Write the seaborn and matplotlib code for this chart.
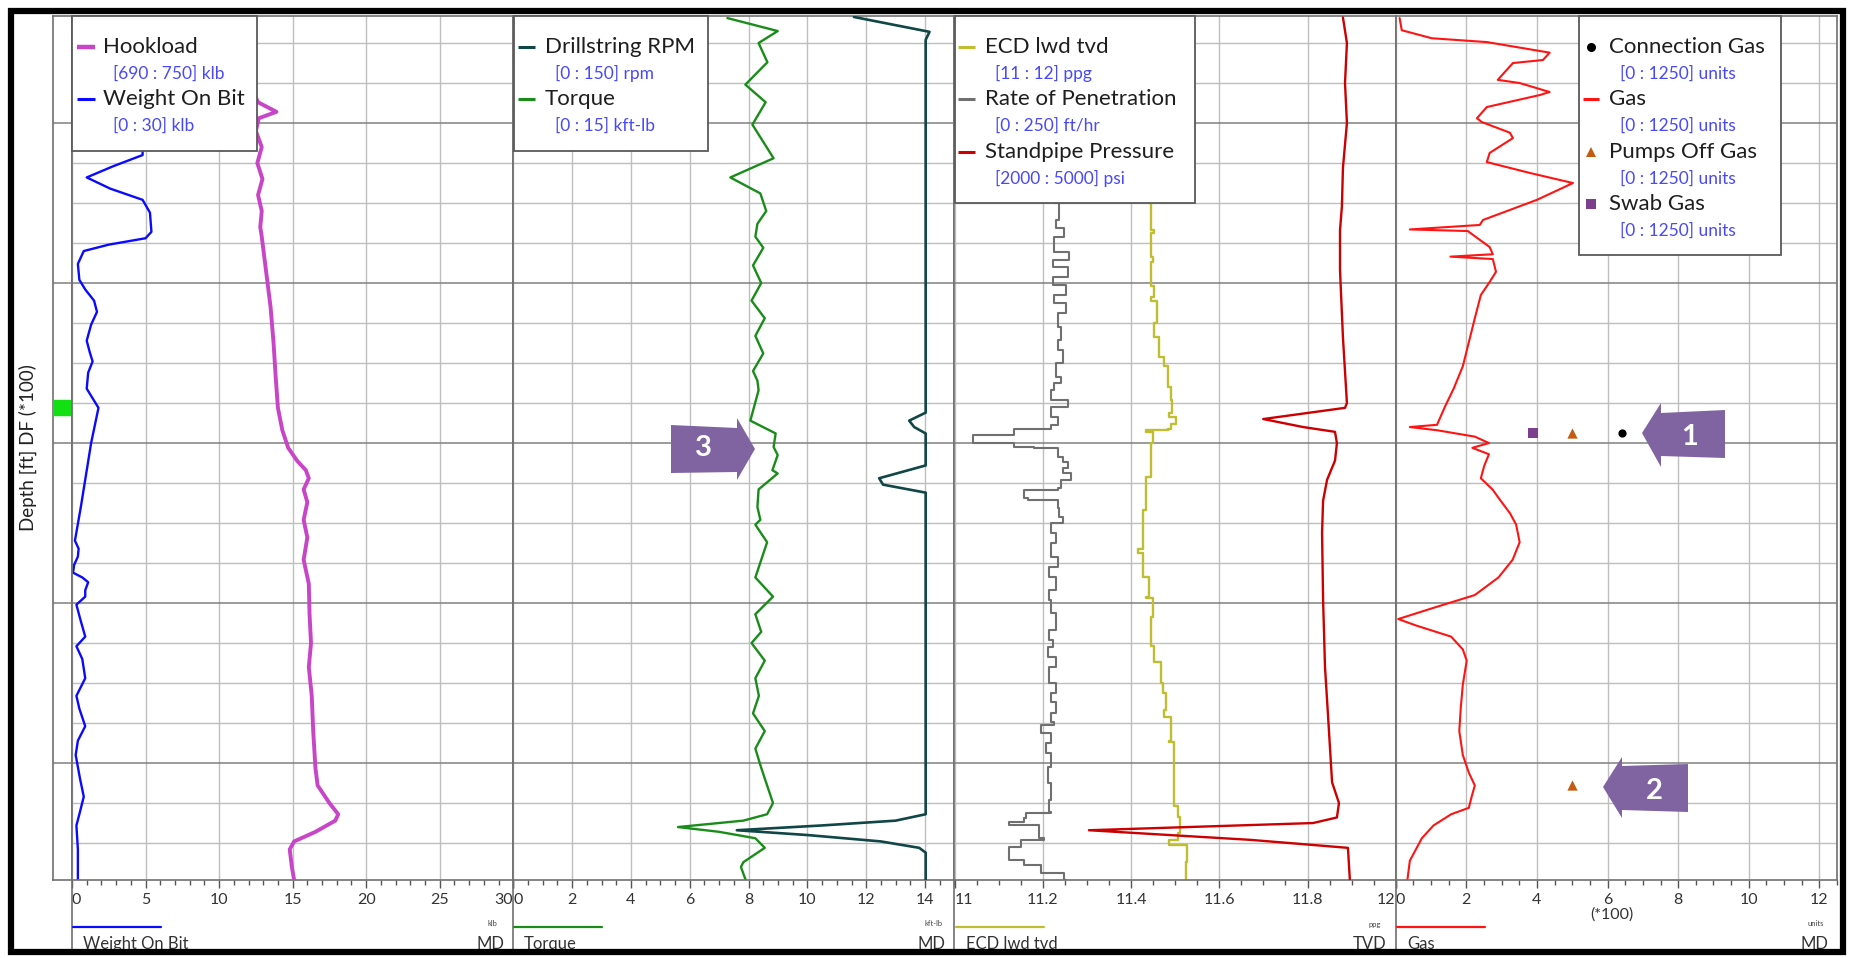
import matplotlib
matplotlib.use("Agg")
import matplotlib.pyplot as plt
import seaborn as sns
from matplotlib.patches import Rectangle, Polygon
from matplotlib.lines import Line2D
from matplotlib.ticker import MultipleLocator

sns.set_theme(style="white")
plt.rcParams['font.family'] = ['Lato', 'DejaVu Sans']

# ------------------------------------------------------------------ data
D_TOP, D_BOT = 7333.1, 7873.1

wob_depth = [7334, 7390, 7415, 7420, 7427, 7434, 7441, 7448, 7456, 7468, 7472, 7476, 7480, 7488, 7498,
             7504, 7511, 7518, 7526, 7536, 7543, 7549, 7556, 7566, 7572, 7578, 7600, 7620, 7640, 7661,
             7666, 7671, 7676, 7681, 7684, 7687, 7692, 7696, 7701, 7710, 7721, 7727, 7735, 7747, 7758,
             7766, 7777, 7786, 7795, 7810, 7821, 7832, 7839, 7854, 7873]
wob_klb = [4.2, 4.5, 4.8, 4.8, 2.8, 1.0, 2.6, 4.8, 5.3, 5.4, 5.0, 2.5, 0.8, 0.4, 0.5,
           0.9, 1.5, 1.7, 1.3, 1.0, 1.2, 1.4, 1.1, 1.0, 1.4, 1.8, 1.3, 0.95, 0.6, 0.2,
           0.45, 0.4, 0.15, 0.07, 0.7, 1.1, 0.9, 0.9, 0.3, 0.56, 0.9, 0.3, 0.7, 0.9, 0.3,
           0.5, 0.9, 0.4, 0.25, 0.55, 0.8, 0.5, 0.3, 0.4, 0.4]

hook_depth = [7334, 7382, 7387, 7393, 7397, 7405, 7415, 7425, 7435, 7445, 7455, 7465, 7471, 7493,
              7515, 7537, 7559, 7578, 7592, 7603, 7611, 7617, 7622, 7629, 7637, 7648, 7659, 7673,
              7688, 7707, 7725, 7740, 7758, 7780, 7803, 7814, 7825, 7832, 7836, 7843, 7849, 7854,
              7865, 7873]
hook_klb = [714.5, 714.8, 715.3, 717.8, 715.4, 715.0, 715.8, 715.2, 715.9, 715.3, 715.8, 715.6, 715.8,
            716.4, 717.0, 717.4, 717.7, 718.0, 718.6, 719.4, 720.6, 721.8, 722.2, 721.5, 722.0, 721.5,
            722.0, 721.5, 722.2, 722.3, 722.5, 722.2, 722.6, 722.8, 723.1, 723.4, 725.0, 726.2, 725.8,
            723.1, 720.2, 719.6, 719.9, 720.2]

torque_depth = [7334.4, 7342.5, 7350, 7362, 7376, 7387, 7401, 7422, 7434, 7444, 7455, 7463, 7471, 7478,
                7489, 7500, 7511, 7522, 7533, 7544, 7555, 7561, 7567, 7586, 7594, 7602.5, 7607.5, 7617,
                7619, 7629, 7640, 7648, 7651, 7662, 7673, 7684, 7696, 7707, 7718, 7725, 7736, 7747,
                7758, 7769, 7780, 7791, 7803, 7814, 7825, 7832, 7836, 7840, 7843, 7847, 7853, 7862,
                7865, 7873]
torque_kftlb = [7.28, 8.99, 8.34, 8.64, 7.89, 8.58, 8.13, 8.85, 7.38, 8.40, 8.6, 8.3, 8.23, 8.5,
                8.15, 8.43, 8.1, 8.55, 8.23, 8.5, 8.15, 8.30, 8.34, 8.06, 8.92, 8.85, 8.99, 8.81,
                8.99, 8.34, 8.30, 8.40, 8.23, 8.63, 8.43, 8.23, 8.83, 8.23, 8.43, 8.10, 8.55, 8.23,
                8.35, 8.15, 8.55, 8.23, 8.43, 8.63, 8.83, 8.63, 7.82, 5.6, 7.0, 8.23, 8.55, 7.82,
                7.74, 7.9]

rpm_depth = [7333.7, 7343, 7348, 7581, 7586, 7590, 7594, 7614, 7622, 7626, 7631, 7832, 7836, 7839,
             7842, 7845, 7849, 7853, 7856, 7873]
rpm_val = [115.8, 141.5, 140.2, 140.2, 134.6, 136.3, 140.2, 140.2, 124.4, 125.7, 140.2, 140.2, 130,
           105, 76, 100, 125, 138, 140.2, 140.2]

ecd_depth = [7334, 7450, 7467, 7469, 7484, 7487, 7502, 7509, 7511, 7525, 7534, 7546, 7552, 7565, 7573,
             7581, 7584, 7588, 7591, 7592, 7593, 7600, 7621, 7642, 7666, 7669, 7681, 7684, 7696, 7697,
             7709, 7727, 7737, 7750, 7756, 7767, 7771, 7786, 7787, 7809, 7827, 7834, 7844, 7848, 7851,
             7862, 7873]
ecd_ppg = [11.44, 11.445, 11.451, 11.445, 11.449, 11.445, 11.451, 11.445, 11.46, 11.451, 11.463, 11.474,
           11.483, 11.49, 11.494, 11.485, 11.501, 11.49, 11.483, 11.433, 11.449, 11.445, 11.433, 11.427,
           11.415, 11.427, 11.427, 11.44, 11.433, 11.449, 11.445, 11.451, 11.467, 11.472, 11.479, 11.474,
           11.49, 11.485, 11.497, 11.497, 11.506, 11.512, 11.506, 11.485, 11.528, 11.524, 11.524]

rop_depth = [7334, 7400, 7440, 7450, 7460.6, 7465.6, 7471.2, 7480.6, 7485.6, 7490, 7496.2, 7501.2, 7507.5,
             7512.5, 7518.7, 7527.5, 7535.6, 7541.9, 7550, 7558.7, 7562.5, 7566.9, 7573.1, 7577.5, 7583.7,
             7588.7, 7591.2, 7595, 7599.4, 7600, 7602.5, 7603.1, 7608.7, 7611.9, 7615.6, 7618.7, 7623.1,
             7628.1, 7629.4, 7634.4, 7635.6, 7640.6, 7646.2, 7650, 7656.2, 7662.5, 7671.2, 7677.5, 7683.7,
             7691.9, 7698.1, 7706.2, 7716.9, 7723.1, 7727.5, 7733.7, 7740, 7750, 7756.2, 7761.9, 7768.7,
             7774.4, 7776.2, 7781.2, 7787.5, 7793.7, 7802.5, 7812.5, 7823.1, 7830.6, 7831.2, 7834.4,
             7836.9, 7838.7, 7846.9, 7848.1, 7852.5, 7857.5, 7860.6, 7863.7, 7868.7, 7873.1]
rop_fthr = [58, 61, 57, 59.3, 57.6, 62.1, 56.4, 64.9, 55.9, 64.3, 55.9, 63.2, 56.4,
            63.2, 58.7, 60.4, 58.7, 61.5, 57.6, 60.4, 56.4, 54.7, 64.3, 54.7, 58.7,
            54.7, 33.9, 10.7, 10.7, 33.9, 45.1, 58.7, 61.5, 64.3, 61.5, 66.0, 60.4,
            58.7, 39.5, 41.8, 58.7, 59.3, 61.5, 54.7, 57.6, 54.7, 58.7, 53.6, 57.6,
            53.6, 54.7, 57.6, 53.6, 55.9, 53.0, 57.6, 53.6, 57.6, 54.7, 57.6, 54.7,
            56.4, 49.1, 54.7, 51.9, 54.7, 53.0, 54.7, 53.6, 54.7, 40.6, 39.5,
            31.0, 48.0, 50.8, 37.8, 31.0, 31.0, 39.5, 49.1, 62.1, 63.2]

spp_depth = [7334, 7350, 7375, 7400, 7428, 7452, 7467, 7492, 7534, 7575, 7578, 7585, 7590, 7593, 7600,
             7611, 7623, 7636, 7656, 7698, 7740, 7771, 7812, 7825, 7834, 7837.5, 7842, 7848, 7853, 7873]
spp_psi = [4641, 4668, 4655, 4668, 4641, 4634, 4621, 4621, 4641, 4668, 4655, 4099, 4370, 4587, 4600,
           4587, 4533, 4506, 4499, 4506, 4519, 4540, 4567, 4614, 4600, 4438, 2914, 4011, 4675, 4688]

gas_depth = [7334.4, 7342, 7347, 7349.4, 7356, 7360.6, 7362.5, 7373, 7375, 7380.6, 7382.5, 7390, 7397,
             7399.4, 7406, 7409.4, 7418.7, 7424.4, 7431.2, 7437.5, 7448, 7460.6, 7463.7, 7466.5, 7467.5,
             7477.5, 7482, 7483.5, 7485, 7493, 7500, 7507.5, 7522, 7537, 7552, 7566, 7577, 7585, 7588.6,
             7590, 7592, 7596, 7600, 7603, 7607, 7614, 7622, 7629, 7636, 7644, 7651, 7662, 7673, 7684,
             7695, 7703, 7710, 7714, 7721, 7729, 7736, 7751, 7766, 7780, 7795, 7806, 7814, 7821, 7828,
             7832, 7839, 7847, 7854, 7861, 7873]
gas_units = [11, 17, 102, 258, 436, 417, 332, 289, 351, 436, 408, 258, 230,
             244, 323, 332, 266, 258, 380, 502, 400, 247, 238, 40, 204,
             266, 275, 155, 275, 284, 264, 241, 224, 207, 190, 164, 140, 124, 117,
             40, 117, 224, 264, 217, 264, 251, 241, 274, 297, 324, 341, 351, 331, 291,
             224, 107, 7, 57, 157, 190, 201, 190, 184, 180, 190, 207, 224, 215, 207,
             157, 107, 74, 57, 40, 33]

conn_gas_depth, conn_gas_units = [7593.75], [640]
pumps_off_depth, pumps_off_units = [7593.75, 7813.75], [500, 500]
swab_depth, swab_units = [7593.75], [390]

marker_depth = [7573.1, 7582.5]   # green depth flag

# tick labels
t1_ticks, t1_labels = [0, 5, 10, 15, 20, 25, 30], ["0", "5", "10", "15", "20", "25", "30"]
t2_ticks, t2_labels = [0, 2, 4, 6, 8, 10, 12, 14], ["0", "2", "4", "6", "8", "10", "12", "14"]
t3_ticks, t3_labels = [11.0, 11.2, 11.4, 11.6, 11.8, 12.0], ["11", "11.2", "11.4", "11.6", "11.8", "12"]
t4_ticks, t4_labels = [0, 200, 400, 600, 800, 1000, 1200], ["0", "2", "4", "6", "8", "10", "12"]

legend1 = [("Hookload", "[690 : 750] klb"), ("Weight On Bit", "[0 : 30] klb")]
legend2 = [("Drillstring RPM", "[0 : 150] rpm"), ("Torque", "[0 : 15] kft-lb")]
legend3 = [("ECD lwd tvd", "[11 : 12] ppg"), ("Rate of Penetration", "[0 : 250] ft/hr"),
           ("Standpipe Pressure", "[2000 : 5000] psi")]
legend4 = [("Connection Gas", "[0 : 1250] units"), ("Gas", "[0 : 1250] units"),
           ("Pumps Off Gas", "[0 : 1250] units"), ("Swab Gas", "[0 : 1250] units")]

footer_names = ["Weight On Bit", "Torque", "ECD lwd tvd", "Gas"]
footer_units = ["klb", "kft-lb", "ppg", "units"]
footer_refs = ["MD", "MD", "TVD", "MD"]

# ------------------------------------------------------------------ styles
C_HOOK, C_WOB = "#C845C8", "#0A0AFF"
C_RPM, C_TORQ = "#114646", "#1A8C1A"
C_ECD, C_ROP, C_SPP = "#BEBE30", "#707070", "#CC0000"
C_GAS, C_CONN, C_PUMP, C_SWAB = "#FF1414", "#000000", "#C55A11", "#7B3F8E"
C_RANGE = "#4848FF"
C_ARROW = "#8064A2"
GRID_MAJ, GRID_MIN, SPINE = "#808080", "#BEBEBE", "#707070"

W, H = 1850, 958
fig = plt.figure(figsize=(W / 100, H / 100), dpi=100)
fig.patch.set_facecolor("white")


def fx(x):
    return x / W


def fy(y):
    return 1 - y / H


TOP, BOT = 16, 880
X = [72, 513.25, 954.5, 1395.75, 1837]


def add_ax(x0, x1):
    return fig.add_axes([fx(x0), fy(BOT), fx(x1) - fx(x0), (BOT - TOP) / H])


def style_track(ax, xlim, ticks, labels, minor, right_label=True):
    ax.set_xlim(*xlim)
    ax.set_ylim(D_BOT, D_TOP)
    ax.set_xticks(ticks, labels)
    ax.xaxis.set_minor_locator(MultipleLocator(minor))
    ax.yaxis.set_major_locator(MultipleLocator(100))
    ax.yaxis.set_minor_locator(MultipleLocator(25))
    ax.tick_params(axis="y", which="both", length=0, labelleft=False)
    ax.tick_params(axis="x", which="major", length=6, width=1, color="#555555", direction="out",
                   labelsize=11.5, labelcolor="#333333", pad=3, bottom=True)
    ax.tick_params(axis="x", which="minor", length=3.5, width=1, color="#555555", direction="out",
                   bottom=True)
    ax.grid(True, which="major", axis="y", color=GRID_MAJ, lw=1.1)
    ax.grid(True, which="minor", axis="y", color=GRID_MIN, lw=1.0)
    ax.grid(True, which="major", axis="x", color=GRID_MIN, lw=1.0)
    ax.set_axisbelow(True)
    for s in ax.spines.values():
        s.set_color(SPINE)
        s.set_linewidth(1.2)
    ax.set_xlabel("")
    ax.set_ylabel("")
    lbls = ax.get_xticklabels()
    lbls[0].set_ha("left")
    if right_label:
        lbls[-1].set_ha("right")


def twin(ax, xlim):
    t = ax.twiny()
    t.set_xlim(*xlim)
    return t


def curve(ax, x, y, color, lw, **kw):
    sns.lineplot(x=x, y=y, ax=ax, orient="y", sort=False, estimator=None, color=color,
                 linewidth=lw, **kw)


# depth column
ax0 = add_ax(53, 72)
ax0.set_xlim(0, 1)
ax0.set_ylim(D_BOT, D_TOP)
ax0.set_xticks([])
ax0.yaxis.set_major_locator(MultipleLocator(100))
ax0.yaxis.set_minor_locator(MultipleLocator(25))
ax0.tick_params(axis="y", which="major", length=7.2, width=1, color=GRID_MAJ, direction="out", labelleft=False)
ax0.tick_params(axis="y", which="minor", length=3.6, width=1, color=GRID_MAJ, direction="out", labelleft=False)
ax0.grid(True, which="major", axis="y", color=GRID_MAJ, lw=1.1)
for s in ax0.spines.values():
    s.set_color(SPINE)
    s.set_linewidth(1.2)
ax0.axhspan(marker_depth[0], marker_depth[1], color="#12E012", zorder=3)

# track 1
ax1 = add_ax(X[0], X[1])
ax1h = twin(ax1, (690, 750))
curve(ax1, wob_klb, wob_depth, C_WOB, 1.7)
curve(ax1h, hook_klb, hook_depth, C_HOOK, 2.8)
ax1h.set_xlim(690, 750)
ax1h.set_axis_off()
style_track(ax1, (0, 30), t1_ticks, t1_labels, 1)

# track 2
ax2 = add_ax(X[1], X[2])
ax2r = twin(ax2, (0, 150))
curve(ax2, torque_kftlb, torque_depth, C_TORQ, 1.7)
curve(ax2r, rpm_val, rpm_depth, C_RPM, 1.9)
ax2r.set_xlim(0, 150)
ax2r.set_axis_off()
style_track(ax2, (0, 15), t2_ticks, t2_labels, 0.5, right_label=False)

# track 3
ax3 = add_ax(X[2], X[3])
ax3r = twin(ax3, (0, 250))
ax3p = twin(ax3, (2000, 5000))
curve(ax3, ecd_ppg, ecd_depth, C_ECD, 1.7, drawstyle="steps-pre")
curve(ax3r, rop_fthr, rop_depth, C_ROP, 1.5, drawstyle="steps-pre")
curve(ax3p, spp_psi, spp_depth, C_SPP, 1.7)
ax3r.set_xlim(0, 250)
ax3p.set_xlim(2000, 5000)
ax3r.set_axis_off()
ax3p.set_axis_off()
style_track(ax3, (11, 12), t3_ticks, t3_labels, 0.05)

# track 4
ax4 = add_ax(X[3], X[4])
curve(ax4, gas_units, gas_depth, C_GAS, 1.5)
sns.scatterplot(x=swab_units, y=swab_depth, ax=ax4, marker="s", s=45, color=C_SWAB, linewidth=0, zorder=5)
sns.scatterplot(x=pumps_off_units, y=pumps_off_depth, ax=ax4, marker="^", s=55, color=C_PUMP, linewidth=0, zorder=5)
sns.scatterplot(x=conn_gas_units, y=conn_gas_depth, ax=ax4, marker="o", s=35, color=C_CONN, linewidth=0, zorder=5)
style_track(ax4, (0, 1250), t4_ticks, t4_labels, 50, right_label=False)

for a in (ax0, ax1, ax2, ax3, ax4):
    a.set_ylim(D_BOT, D_TOP)

# ------------------------------------------------------------------ legends


def fig_line(xs, ys, **kw):
    fig.lines.append(Line2D([fx(v) for v in xs], [fy(v) for v in ys], transform=fig.transFigure,
                            zorder=kw.pop("zorder", 6), **kw))


def legend_box(x0, y0, x1, y1):
    fig.patches.append(Rectangle((fx(x0), fy(y1)), fx(x1) - fx(x0), (y1 - y0) / H,
                                 transform=fig.transFigure, fc="white", ec="#595959", lw=1.3, zorder=5))


def legend_entries(entries, kinds, sx0, sx1, nx, rx):
    for i, ((name, rng), (kind, col, lw)) in enumerate(zip(entries, kinds)):
        yn = 47 + 52.4 * i
        yr = yn + 26.5
        if kind == "line":
            fig_line([sx0, sx1], [yn, yn], color=col, lw=lw, solid_capstyle="butt")
        else:
            fig_line([(sx0 + sx1) / 2], [yn], color=col, lw=0, marker=kind,
                     markersize=lw, markeredgewidth=0)
        fig.text(fx(nx), fy(yn), name, ha="left", va="center", fontsize=16, color="#1E1E1E", zorder=7)
        fig.text(fx(rx), fy(yr), rng, ha="left", va="center", fontsize=12.5, color=C_RANGE, zorder=7)


legend_box(72, 16, 257, 151)
legend_entries(legend1, [("line", C_HOOK, 3.2), ("line", C_WOB, 2.2)], 77, 95, 103, 113)
legend_box(514, 16, 708, 151)
legend_entries(legend2, [("line", C_RPM, 2.2), ("line", C_TORQ, 2.2)], 518, 535, 545, 555)
legend_box(955, 16, 1195, 203)
legend_entries(legend3, [("line", C_ECD, 2.2), ("line", C_ROP, 2.2), ("line", C_SPP, 2.2)],
               958, 975, 985, 995)
legend_box(1579, 16, 1781, 255)
legend_entries(legend4, [("o", C_CONN, 6.5), ("line", C_GAS, 2.2), ("^", C_PUMP, 7.5), ("s", C_SWAB, 6.5)],
               1583, 1599, 1609, 1620)

# ------------------------------------------------------------------ footer
colors_foot = [C_WOB, C_TORQ, C_ECD, C_GAS]
for i in range(4):
    x0, x1 = X[i], X[i + 1]
    fig_line([x0 + 1, x0 + 89], [927, 927], color=colors_foot[i], lw=1.6)
    fig.text(fx(x0 + 11), fy(944), footer_names[i], ha="left", va="center", fontsize=12, color="#333333")
    fig.text(fx(x1 - 21), fy(924), footer_units[i], ha="center", va="center", fontsize=5.5, color="#444444")
    fig.text(fx(x1 - 9), fy(944), footer_refs[i], ha="right", va="center", fontsize=12, color="#333333")
    fig_line([x0, x0], [880, 950], color=SPINE, lw=1.2, zorder=4)
fig.text(fx(1612), fy(915), "(*100)", ha="center", va="center", fontsize=11.5, color="#333333")

fig.text(fx(28), fy(448), "Depth [ft] DF (*100)", rotation=90, ha="center", va="center",
         fontsize=13.5, color="#222222")

# ------------------------------------------------------------------ arrows


def arrow(pts, label, tx, ty):
    fig.patches.append(Polygon([(fx(a), fy(b)) for a, b in pts], closed=True, transform=fig.transFigure,
                               fc=C_ARROW, ec="none", zorder=8))
    fig.text(fx(tx), fy(ty), label, ha="center", va="center", fontsize=21, fontweight="bold",
             color="white", zorder=9)


arrow([(1642, 433), (1661, 403), (1661, 413), (1725, 410), (1725, 458), (1661, 456), (1661, 467)], "1", 1690, 437)
arrow([(1603, 787), (1622, 757), (1622, 766), (1688, 764), (1688, 812), (1622, 810), (1622, 818)], "2", 1654, 791)
arrow([(755, 449), (737, 418), (737, 428), (671, 425), (671, 473), (737, 472), (737, 480)], "3", 703, 448)

# outer frame
fig.patches.append(Rectangle((fx(11), fy(952)), fx(1843) - fx(11), (952 - 11) / H, fill=False,
                             ec="black", lw=4.5, transform=fig.transFigure, zorder=10))

fig.savefig("out.png", dpi=100)
